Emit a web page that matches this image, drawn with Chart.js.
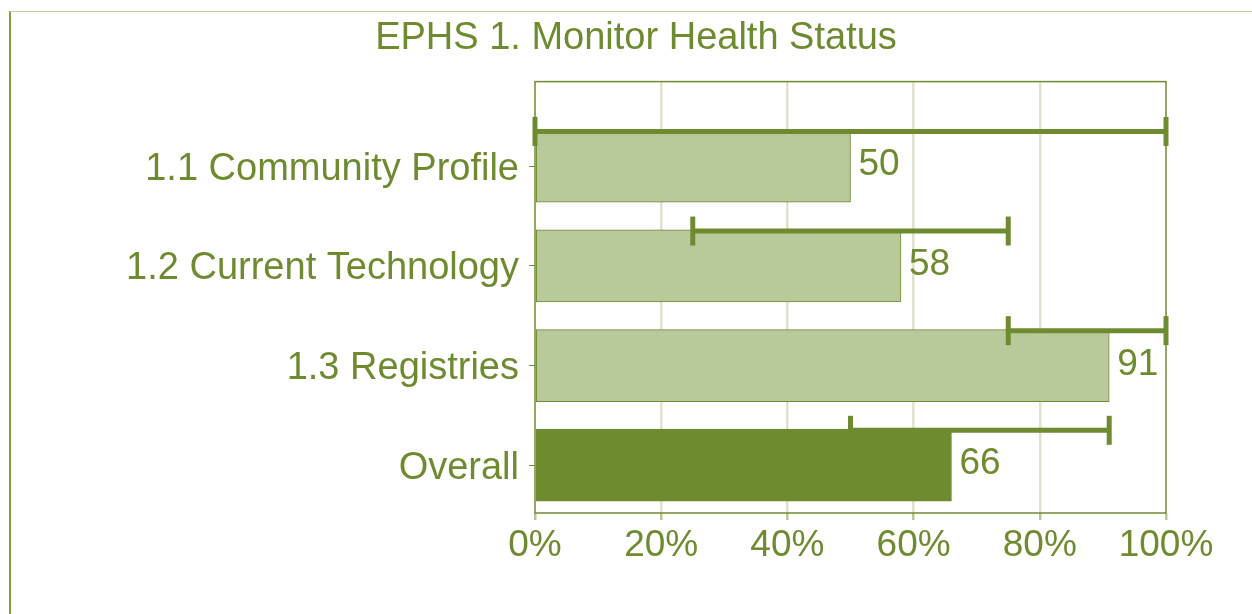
<!DOCTYPE html>
<html>
<head>
<meta charset="utf-8">
<title>EPHS 1. Monitor Health Status</title>
<script src="https://cdn.jsdelivr.net/npm/chart.js@4.4.1/dist/chart.umd.min.js"></script>
<style>
html, body { margin: 0; padding: 0; background: #fff; }
#wrap { position: relative; width: 1252px; height: 614px; overflow: hidden; }
#frame { position: absolute; left: 9px; top: 11px; right: -2px; bottom: -2px;
  border-left: 2px solid #7f9e42; border-top: 1px solid #c5d2a4; }
canvas { position: absolute; left: 0; top: 0; }
</style>
</head>
<body>
<div id="wrap">
  <div id="frame"></div>
  <canvas id="chart" width="1252" height="614"></canvas>
</div>
<script>
// data
const categories = ['1.1 Community Profile', '1.2 Current Technology', '1.3 Registries', 'Overall'];
const scores = [50, 58, 91, 66];
const rangeLow = [0, 25, 75, 50];
const rangeHigh = [100, 75, 100, 91];
const xTicks = [0, 20, 40, 60, 80, 100];

// colours
const olive = '#6e8b30';
const lightBar = '#b8c99b';
const gridColor = '#dfe2cc';
const font = 'Liberation Sans, Arial, sans-serif';

// range lines sit on the top edge of each bar
const rangeOffset = 0.35;

// left padding is wide so the title centres over the plot like the original
const padLeft = 106;

const barData = scores.map((v, i) => ({ x: v, y: i }));

const rangeSets = rangeLow.map((lo, i) => ({
  type: 'line',
  data: [{ x: lo, y: i - rangeOffset }, { x: rangeHigh[i], y: i - rangeOffset }],
  borderColor: olive,
  borderWidth: 5,
  pointStyle: 'line',
  rotation: 90,
  pointRadius: 14.5,
  pointHoverRadius: 14.5,
  pointBorderColor: olive,
  pointBorderWidth: 5,
  fill: false,
  clip: false,
  order: 0
}));

// box round the plot area
const plotBorder = {
  id: 'plotBorder',
  afterDatasetsDraw(chart) {
    const a = chart.chartArea;
    const ctx = chart.ctx;
    ctx.save();
    ctx.strokeStyle = olive;
    ctx.lineWidth = 1.5;
    ctx.strokeRect(a.left, a.top, a.right - a.left, a.bottom - a.top);
    ctx.restore();
  }
};

// numbers at the end of each bar
const valueLabels = {
  id: 'valueLabels',
  afterDatasetsDraw(chart) {
    const ctx = chart.ctx;
    const meta = chart.getDatasetMeta(rangeSets.length);
    ctx.save();
    ctx.fillStyle = olive;
    ctx.font = '37px ' + font;
    ctx.textAlign = 'left';
    ctx.textBaseline = 'middle';
    meta.data.forEach((bar, i) => {
      ctx.fillText(String(scores[i]), bar.x + 8, bar.y - 1);
    });
    ctx.restore();
  }
};

const chart = new Chart(document.getElementById('chart'), {
  type: 'bar',
  data: {
    datasets: [
      ...rangeSets,
      {
        type: 'bar',
        data: barData,
        backgroundColor: scores.map((v, i) => i === scores.length - 1 ? olive : lightBar),
        borderColor: olive,
        borderWidth: 1,
        borderSkipped: false,
        barThickness: 72,
        order: 1
      }
    ]
  },
  options: {
    indexAxis: 'y',
    responsive: false,
    animation: false,
    layout: { padding: { left: padLeft, right: 86, top: 16, bottom: 0 } },
    plugins: {
      legend: { display: false },
      tooltip: { enabled: false },
      title: {
        display: true,
        text: 'EPHS 1. Monitor Health Status',
        color: olive,
        font: { family: font, size: 38, weight: 'normal' },
        padding: { top: 0, bottom: 20 }
      }
    },
    scales: {
      x: {
        type: 'linear',
        min: 0,
        max: 100,
        afterBuildTicks: axis => { axis.ticks = xTicks.map(v => ({ value: v })); },
        afterFit: axis => { axis.height = 614 - 513; },
        border: { display: false },
        grid: {
          color: c => (c.tick.value === 0 || c.tick.value === 100) ? 'rgba(0,0,0,0)' : gridColor,
          lineWidth: 2.5,
          tickColor: '#b9c69a',
          tickLength: 7
        },
        ticks: {
          color: olive,
          font: { family: font, size: 37 },
          padding: 4,
          callback: v => v + '%'
        }
      },
      y: {
        type: 'linear',
        reverse: true,
        offset: false,
        min: -0.85,
        max: 3.48,
        afterBuildTicks: axis => { axis.ticks = categories.map((c, i) => ({ value: i })); },
        afterFit: axis => { axis.width = 535 - padLeft; },
        border: { display: false },
        grid: {
          offset: false,
          drawOnChartArea: false,
          tickColor: olive,
          tickLength: 6
        },
        ticks: {
          color: olive,
          font: { family: font, size: 38 },
          padding: 10,
          labelOffset: 3,
          autoSkip: false,
          callback: v => categories[v]
        }
      }
    }
  },
  plugins: [plotBorder, valueLabels]
});
</script>
</body>
</html>
